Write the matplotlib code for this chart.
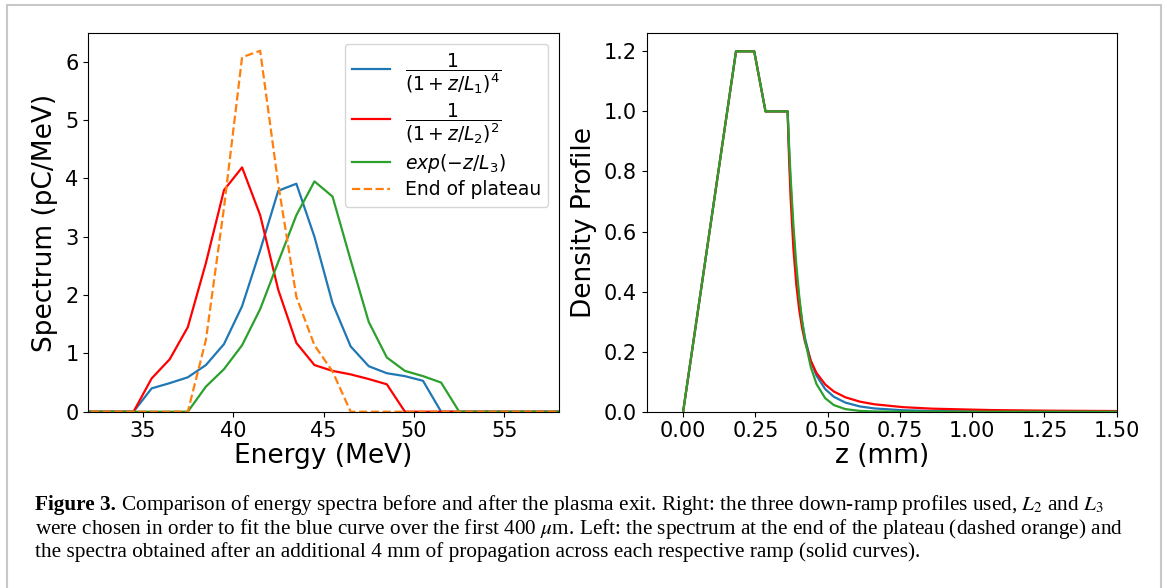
import matplotlib
matplotlib.use("Agg")
import matplotlib.pyplot as plt
from matplotlib.patches import Rectangle

# ---------------------------------------------------------------------------
# Left panel: energy spectra (pC/MeV)
# ---------------------------------------------------------------------------
energy = [31.5, 32.5, 33.5, 34.5, 35.5, 36.5, 37.5, 38.5, 39.5, 40.5,
          41.5, 42.5, 43.5, 44.5, 45.5, 46.5, 47.5, 48.5, 49.5, 50.5,
          51.5, 52.5, 53.5, 54.5, 55.5, 56.5, 57.5, 58.5]
spec_pow4 = [0, 0, 0, 0, 0.40, 0.49, 0.59, 0.80, 1.16, 1.81,
             2.77, 3.79, 3.91, 3.00, 1.86, 1.12, 0.78, 0.66, 0.61, 0.53,
             0, 0, 0, 0, 0, 0, 0, 0]
spec_pow2 = [0, 0, 0, 0, 0.57, 0.90, 1.45, 2.55, 3.80, 4.19,
             3.37, 2.09, 1.18, 0.80, 0.70, 0.64, 0.56, 0.47, 0, 0,
             0, 0, 0, 0, 0, 0, 0, 0]
spec_exp = [0, 0, 0, 0, 0, 0, 0, 0.43, 0.73, 1.14,
            1.76, 2.57, 3.37, 3.95, 3.69, 2.60, 1.54, 0.93, 0.70, 0.61,
            0.50, 0, 0, 0, 0, 0, 0, 0]
spec_plateau = [0, 0, 0, 0, 0, 0, 0, 1.23, 3.50, 6.08,
                6.19, 3.90, 1.97, 1.14, 0.69, 0, 0, 0, 0, 0,
                0, 0, 0, 0, 0, 0, 0, 0]

# ---------------------------------------------------------------------------
# Right panel: density profiles vs z (mm)
# ---------------------------------------------------------------------------
z_mm = [0.0, 0.183, 0.246, 0.285, 0.3615, 0.3665, 0.3715, 0.3815, 0.3915,
        0.4015, 0.4115, 0.4215, 0.4415, 0.4615, 0.4915, 0.5215, 0.5615,
        0.6115, 0.6615, 0.7615, 0.8615, 1.0615, 1.2615, 1.5]
dens_pow4 = [0, 1.2, 1.2, 1.0, 1.0, 0.871, 0.763, 0.592, 0.467, 0.373, 0.301,
             0.246, 0.169, 0.120, 0.0753, 0.0496, 0.0302, 0.0175, 0.0109,
             0.0048, 0.00245, 0.00083, 0.00035, 0.00015]
dens_pow2 = [0, 1.2, 1.2, 1.0, 1.0, 0.843, 0.720, 0.543, 0.424, 0.340, 0.279,
             0.233, 0.1696, 0.1289, 0.0907, 0.0672, 0.0479, 0.0335, 0.0247,
             0.0151, 0.0101, 0.0055, 0.0034, 0.0022]
dens_exp = [0, 1.2, 1.2, 1.0, 1.0, 0.888, 0.788, 0.621, 0.490, 0.386, 0.304,
            0.240, 0.149, 0.092, 0.045, 0.022, 0.0086, 0.0026, 0.0008,
            0.0001, 0, 0, 0, 0]

labels = [r"$\dfrac{1}{(1+z/L_1)^4}$", r"$\dfrac{1}{(1+z/L_2)^2}$",
          r"$exp(-z/L_3)$", "End of plateau"]

caption_lines = [
    ("Figure 3.", " Comparison of energy spectra before and after the plasma exit. "
                  "Right: the three down-ramp profiles used, $L_2$ and $L_3$"),
    ("", "were chosen in order to fit the blue curve over the first 400 $\\mu$m. "
         "Left: the spectrum at the end of the plateau (dashed orange) and"),
    ("", "the spectra obtained after an additional 4 mm of propagation across "
         "each respective ramp (solid curves)."),
]

W, H = 1167, 588
fig = plt.figure(figsize=(W / 100, H / 100), dpi=100)

# light frame around the figure (open at the bottom edge)
fig.patches.append(Rectangle((7 / W, -0.05), 1154 / W, 1 - 5 / H + 0.05,
                             transform=fig.transFigure, fill=False,
                             edgecolor="#c8c8c8", linewidth=1.5))

ax1 = fig.add_axes([88.3 / W, 1 - 411.7 / H, 470.4 / W, 378.4 / H])
ax1.plot(energy, spec_pow4, color="#1f77b4", lw=1.6, label=labels[0])
ax1.plot(energy, spec_pow2, color="red", lw=1.6, label=labels[1])
ax1.plot(energy, spec_exp, color="#2ca02c", lw=1.6, label=labels[2])
ax1.plot(energy, spec_plateau, color="#ff7f0e", lw=1.6, ls="--", label=labels[3])
ax1.set_xlim(32, 58)
ax1.set_ylim(0, 6.49)
ax1.set_xticks([35, 40, 45, 50, 55])
ax1.set_yticks([0, 1, 2, 3, 4, 5, 6])
ax1.tick_params(labelsize=15)
ax1.set_xlabel("Energy (MeV)", fontsize=19, labelpad=1)
ax1.set_ylabel("Spectrum (pC/MeV)", fontsize=19, labelpad=5)
ax1.legend(loc="upper right", fontsize=13.5, handlelength=2.0,
           borderaxespad=0.55, labelspacing=0.3, borderpad=0.4)

ax2 = fig.add_axes([646.7 / W, 1 - 411.7 / H, 470 / W, 378.4 / H])
ax2.plot(z_mm, dens_pow4, color="#1f77b4", lw=1.6)
ax2.plot(z_mm, dens_pow2, color="red", lw=1.6)
ax2.plot(z_mm, dens_exp, color="#2ca02c", lw=1.6)
ax2.set_xlim(-0.126, 1.5)
ax2.set_ylim(0, 1.26)
ax2.set_xticks([0.0, 0.25, 0.5, 0.75, 1.0, 1.25, 1.5])
ax2.set_xticklabels(["0.00", "0.25", "0.50", "0.75", "1.00", "1.25", "1.50"])
ax2.set_yticks([0.0, 0.2, 0.4, 0.6, 0.8, 1.0, 1.2])
ax2.tick_params(labelsize=15)
ax2.set_xlabel("z (mm)", fontsize=19, labelpad=1)
ax2.set_ylabel("Density Profile", fontsize=19, labelpad=5)

# caption, sized so that the widest line spans the measured width
fig.canvas.draw()
renderer = fig.canvas.get_renderer()
probe = fig.text(0, 0, caption_lines[1][1], fontsize=13, family="Liberation Serif",
                 math_fontfamily="stix")
width = probe.get_window_extent(renderer).width
probe.remove()
fs = 13 * (1088 / width)

x0 = 35
baselines = [510, 534, 557]
for (bold, rest), yb in zip(caption_lines, baselines):
    x = x0
    if bold:
        tb = fig.text(x / W, 1 - yb / H, bold, fontsize=fs, weight="bold",
                      family="Liberation Serif", va="baseline")
        x += tb.get_window_extent(renderer).width
    fig.text(x / W, 1 - yb / H, rest, fontsize=fs, family="Liberation Serif",
             math_fontfamily="stix", va="baseline")

fig.savefig("out.png", dpi=100)
